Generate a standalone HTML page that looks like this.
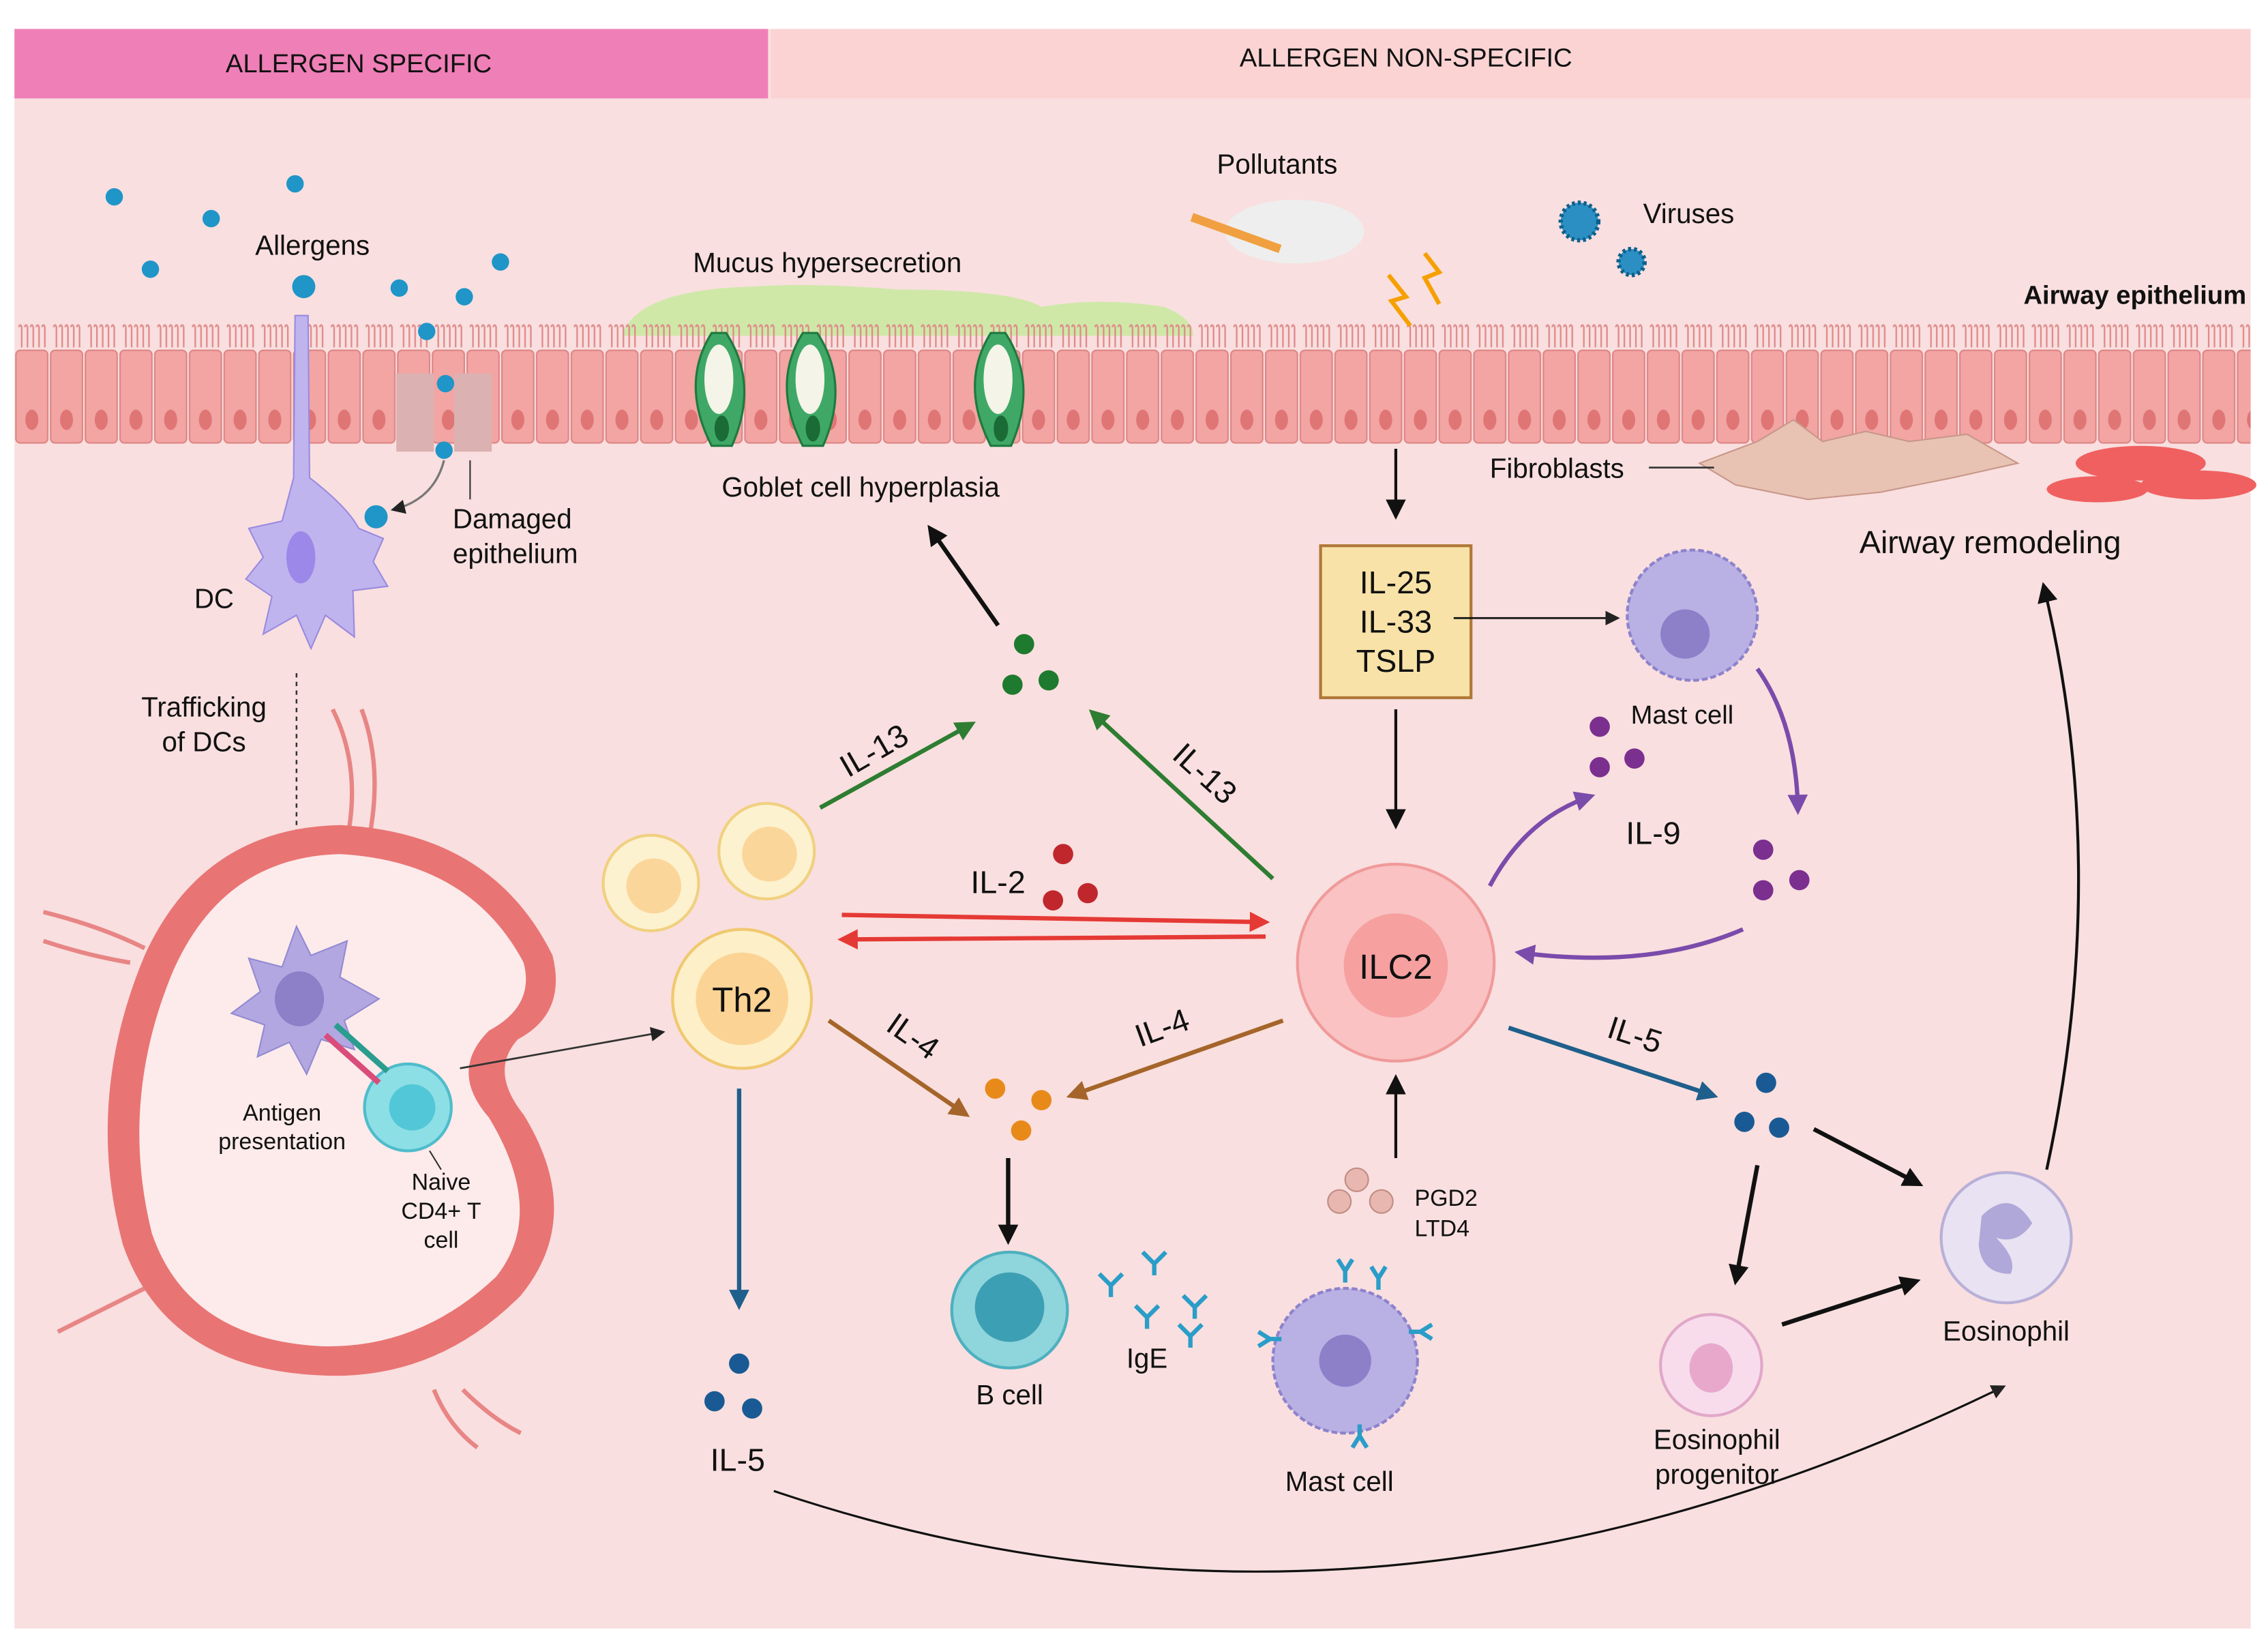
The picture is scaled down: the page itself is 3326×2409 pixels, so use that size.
<!DOCTYPE html>
<html><head><meta charset="utf-8"><style>
html,body{margin:0;padding:0;background:#fff}
svg{display:block}
text{font-family:"Liberation Sans",sans-serif;fill:#111}
</style></head><body>
<svg width="3326" height="2409" viewBox="0 0 1568 1135" preserveAspectRatio="none" xmlns="http://www.w3.org/2000/svg">
<defs>
<pattern id="epi" x="10" y="222" width="24" height="90" patternUnits="userSpaceOnUse">
<path d="M3 4 q1 -3 2 0 v14 M7 4 q1 -3 2 0 v14 M11 4 q1 -3 2 0 v14 M15 4 q1 -3 2 0 v14 M19 4 q1 -3 2 0 v14" fill="none" stroke="#e08a8a" stroke-width="1.1"/>
<rect x="1" y="20" width="22" height="64" rx="3" fill="#f2a5a2" stroke="#dd8584" stroke-width="1"/>
<ellipse cx="12" cy="68" rx="4.5" ry="7" fill="#e07575"/>
</pattern>
<marker id="ak" markerWidth="10" markerHeight="10" refX="8" refY="5" orient="auto" markerUnits="userSpaceOnUse"><path d="M0,0 L10,5 L0,10 z" fill="#222"/></marker>
<marker id="ag" markerWidth="14" markerHeight="14" refX="11" refY="7" orient="auto" markerUnits="userSpaceOnUse"><path d="M0,0 L14,7 L0,14 z" fill="#2e7d32"/></marker>
<marker id="ar" markerWidth="14" markerHeight="14" refX="11" refY="7" orient="auto" markerUnits="userSpaceOnUse"><path d="M0,0 L14,7 L0,14 z" fill="#e53935"/></marker>
<marker id="ao" markerWidth="14" markerHeight="14" refX="11" refY="7" orient="auto" markerUnits="userSpaceOnUse"><path d="M0,0 L14,7 L0,14 z" fill="#a5652a"/></marker>
<marker id="ab" markerWidth="14" markerHeight="14" refX="11" refY="7" orient="auto" markerUnits="userSpaceOnUse"><path d="M0,0 L14,7 L0,14 z" fill="#1f5f8b"/></marker>
<marker id="ap" markerWidth="14" markerHeight="14" refX="11" refY="7" orient="auto" markerUnits="userSpaceOnUse"><path d="M0,0 L14,7 L0,14 z" fill="#7b4bab"/></marker>
<marker id="aK" markerWidth="14" markerHeight="14" refX="11" refY="7" orient="auto" markerUnits="userSpaceOnUse"><path d="M0,0 L14,7 L0,14 z" fill="#111"/></marker>
</defs>
<rect x="0" y="0" width="1568" height="1135" fill="#fff"/>
<rect x="10" y="20" width="1546" height="1105" fill="#f9dfdf"/>
<rect x="10" y="20" width="521" height="48" fill="#ef7fb7"/>
<rect x="533" y="20" width="1023" height="48" fill="#fbd3d3"/>
<text x="248" y="50" font-size="18" text-anchor="middle">ALLERGEN SPECIFIC</text>
<text x="972" y="46" font-size="18" text-anchor="middle">ALLERGEN NON-SPECIFIC</text>

<path d="M430 232 Q440 200 520 198 Q560 195 620 200 Q700 200 720 212 Q760 205 805 212 Q825 220 825 232 Z" fill="#cfe8a8"/>
<rect x="10" y="222" width="1546" height="90" fill="url(#epi)"/>
<rect x="274" y="258" width="26" height="54" fill="#dcb1b1"/>
<rect x="314" y="258" width="26" height="54" fill="#dcb1b1"/>
<g fill="#3fa866" stroke="#1f7a40" stroke-width="1.5">
<path d="M492 230 Q470 265 492 308 h14 Q525 265 502 230 Z"/>
<path d="M555 230 Q533 265 555 308 h14 Q588 265 565 230 Z"/>
<path d="M685 230 Q663 265 685 308 h14 Q718 265 695 230 Z"/>
</g>
<g fill="#f4f4e8"><ellipse cx="497" cy="262" rx="10" ry="24"/><ellipse cx="560" cy="262" rx="10" ry="24"/><ellipse cx="690" cy="262" rx="10" ry="24"/></g>
<g fill="#1a6b36"><ellipse cx="499" cy="296" rx="5" ry="9"/><ellipse cx="562" cy="296" rx="5" ry="9"/><ellipse cx="692" cy="296" rx="5" ry="9"/></g>
<g fill="#e8c3b4" stroke="#c8978a"><path d="M1175 320 L1215 305 L1240 290 L1260 305 L1290 298 L1320 305 L1360 300 L1395 320 L1350 330 L1300 340 L1250 345 L1200 335 Z"/></g>
<g fill="#f06060"><ellipse cx="1480" cy="320" rx="45" ry="12"/><ellipse cx="1520" cy="335" rx="40" ry="10"/><ellipse cx="1450" cy="338" rx="35" ry="9"/></g>
<line x1="1140" y1="323" x2="1185" y2="323" stroke="#333" stroke-width="1.2"/>
<text x="1030" y="330" font-size="19">Fibroblasts</text>
<text x="1553" y="210" font-size="18" font-weight="bold" text-anchor="end">Airway epithelium</text>
<text x="1376" y="382" font-size="22" text-anchor="middle">Airway remodeling</text>
<text x="572" y="188" font-size="19" text-anchor="middle">Mucus hypersecretion</text>
<text x="595" y="343" font-size="19" text-anchor="middle">Goblet cell hyperplasia</text>

<g fill="#1f95c8"><circle cx="79" cy="136" r="6"/><circle cx="146" cy="151" r="6"/><circle cx="204" cy="127" r="6"/><circle cx="104" cy="186" r="6"/><circle cx="276" cy="199" r="6"/><circle cx="321" cy="205" r="6"/><circle cx="346" cy="181" r="6"/><circle cx="295" cy="229" r="6"/><circle cx="308" cy="265" r="6"/><circle cx="307" cy="311" r="6"/><circle cx="210" cy="198" r="8"/><circle cx="260" cy="357" r="8"/></g>
<text x="216" y="176" font-size="19" text-anchor="middle">Allergens</text>
<path d="M204 218 L213 218 L214 330 Q240 350 248 365 L265 372 L258 388 L268 405 L244 408 L245 440 L225 425 L215 448 L205 425 L182 438 L188 412 L170 400 L182 385 L172 365 L195 360 L203 330 Z" fill="#c0b4ee" stroke="#9a8ae0"/>
<ellipse cx="208" cy="385" rx="10" ry="18" fill="#9c88e8"/>
<path d="M307 318 Q300 345 272 352" fill="none" stroke="#777" stroke-width="1.5" marker-end="url(#ak)"/>
<line x1="325" y1="318" x2="325" y2="345" stroke="#333"/>
<text x="313" y="365" font-size="19">Damaged</text>
<text x="313" y="389" font-size="19">epithelium</text>
<text x="148" y="420" font-size="19" text-anchor="middle">DC</text>
<text x="141" y="495" font-size="19" text-anchor="middle">Trafficking</text>
<text x="141" y="519" font-size="19" text-anchor="middle">of DCs</text>
<line x1="205" y1="465" x2="205" y2="630" stroke="#333" stroke-width="1.2" stroke-dasharray="3,3" marker-end="url(#ak)"/>

<g fill="none" stroke="#e88585" stroke-width="3">
<path d="M30 630 Q70 640 100 655"/><path d="M30 650 Q60 660 90 665"/><path d="M40 920 Q80 900 110 885"/><path d="M230 490 Q250 530 240 580"/><path d="M250 490 Q265 530 255 580"/><path d="M320 960 Q340 980 360 990"/><path d="M300 960 Q310 985 330 1000"/>
</g>
<path d="M235 570 Q340 575 382 660 Q392 700 358 718 Q338 740 362 770 Q405 840 360 895 Q300 955 220 950 Q115 945 85 860 Q58 760 100 660 Q140 572 235 570 Z" fill="#e97474"/>
<path d="M235 590 Q325 595 362 665 Q370 695 338 712 Q310 740 338 772 Q378 838 343 882 Q290 932 222 930 Q130 925 105 852 Q82 760 120 670 Q155 592 235 590 Z" fill="#fcebea"/>
<path d="M205 640 L215 660 L240 650 L235 675 L262 690 L238 705 L245 725 L222 718 L212 742 L200 720 L178 730 L183 708 L160 700 L180 685 L172 662 L195 668 Z" fill="#b2a7e0" stroke="#938ad2"/>
<ellipse cx="207" cy="690" rx="17" ry="19" fill="#8d7fc8"/>
<circle cx="282" cy="765" r="30" fill="#8ddfe6" stroke="#4fbccb" stroke-width="2"/>
<circle cx="285" cy="765" r="16" fill="#52c7d7"/>
<line x1="225" y1="715" x2="262" y2="748" stroke="#d94d7b" stroke-width="4"/><line x1="232" y1="708" x2="268" y2="740" stroke="#2a9d8f" stroke-width="4"/>
<text x="195" y="774" font-size="16" text-anchor="middle">Antigen</text>
<text x="195" y="794" font-size="16" text-anchor="middle">presentation</text>
<line x1="297" y1="795" x2="305" y2="808" stroke="#333"/>
<text x="305" y="822" font-size="16" text-anchor="middle">Naive</text>
<text x="305" y="842" font-size="16" text-anchor="middle">CD4+ T</text>
<text x="305" y="862" font-size="16" text-anchor="middle">cell</text>
<line x1="318" y1="738" x2="458" y2="713" stroke="#333" stroke-width="1.3" marker-end="url(#ak)"/>

<circle cx="450" cy="610" r="33" fill="#fdf2cf" stroke="#f0d080" stroke-width="2"/><circle cx="452" cy="612" r="19" fill="#fbd69a"/>
<circle cx="530" cy="588" r="33" fill="#fdf2cf" stroke="#f0d080" stroke-width="2"/><circle cx="532" cy="590" r="19" fill="#fbd69a"/>
<circle cx="513" cy="690" r="48" fill="#fdf0c8" stroke="#f0c870" stroke-width="2"/><circle cx="513" cy="690" r="32" fill="#fbd495"/>
<text x="513" y="699" font-size="24" text-anchor="middle">Th2</text>

<circle cx="965" cy="665" r="68" fill="#fac2c2" stroke="#f09a9a" stroke-width="2"/><circle cx="965" cy="667" r="36" fill="#f6a0a0"/>
<text x="965" y="676" font-size="24" text-anchor="middle">ILC2</text>

<rect x="913" y="377" width="104" height="105" fill="#f8e2a8" stroke="#b07838" stroke-width="2"/>
<text x="965" y="410" font-size="22" text-anchor="middle">IL-25</text>
<text x="965" y="437" font-size="22" text-anchor="middle">IL-33</text>
<text x="965" y="464" font-size="22" text-anchor="middle">TSLP</text>

<text x="883" y="120" font-size="19" text-anchor="middle">Pollutants</text>
<ellipse cx="895" cy="160" rx="48" ry="22" fill="#eeeeee"/>
<line x1="824" y1="150" x2="885" y2="172" stroke="#f0a040" stroke-width="6"/>
<path d="M960 190 L972 205 L962 208 L975 225 M985 175 L995 188 L985 192 L995 210" fill="none" stroke="#f5a000" stroke-width="3"/>
<circle cx="1092" cy="153" r="13" fill="#2b8fc4" stroke="#0e5f8a" stroke-width="3" stroke-dasharray="2,2"/>
<circle cx="1128" cy="181" r="9" fill="#2b8fc4" stroke="#0e5f8a" stroke-width="3" stroke-dasharray="2,2"/>
<text x="1136" y="154" font-size="19">Viruses</text>

<circle cx="1170" cy="425" r="45" fill="#b9b0e4" stroke="#8d82cc" stroke-width="2" stroke-dasharray="4,2"/><circle cx="1165" cy="438" r="17" fill="#8d7fc8"/>
<text x="1163" y="500" font-size="18" text-anchor="middle">Mast cell</text>
<circle cx="930" cy="940" r="50" fill="#b9b0e4" stroke="#8d82cc" stroke-width="2" stroke-dasharray="4,2"/><circle cx="930" cy="940" r="18" fill="#8d7fc8"/>
<g stroke="#2a9dc8" stroke-width="3" fill="none"><path d="M925 870 l5 8 l5 -8 M930 878 v8"/><path d="M948 875 l5 8 l5 -8 M953 883 v8"/><path d="M870 920 l8 5 l-8 5 M878 925 h8"/><path d="M935 1000 l5 -8 l5 8 M940 992 v-8"/><path d="M990 915 l-8 5 l8 5 M982 920 h-8"/></g>
<text x="926" y="1030" font-size="19" text-anchor="middle">Mast cell</text>
<g fill="#e8b8b0" stroke="#c08c84"><circle cx="938" cy="815" r="8"/><circle cx="926" cy="830" r="8"/><circle cx="955" cy="830" r="8"/></g>
<text x="978" y="833" font-size="16">PGD2</text><text x="978" y="854" font-size="16">LTD4</text>

<circle cx="698" cy="905" r="40" fill="#8fd5dc" stroke="#4eb0bf" stroke-width="2"/><circle cx="698" cy="903" r="24" fill="#3d9fb3"/>
<text x="698" y="970" font-size="19" text-anchor="middle">B cell</text>
<g stroke="#2a9dc8" stroke-width="3" fill="none"><path d="M760 880 l8 8 l8 -8 M768 888 v8"/><path d="M790 865 l8 8 l8 -8 M798 873 v8"/><path d="M785 902 l8 8 l8 -8 M793 910 v8"/><path d="M818 895 l8 8 l8 -8 M826 903 v8"/><path d="M815 915 l8 8 l8 -8 M823 923 v8"/></g>
<text x="793" y="945" font-size="19" text-anchor="middle">IgE</text>

<circle cx="1387" cy="855" r="45" fill="#e8e2f2" stroke="#b9b0d8" stroke-width="2"/><path d="M1370 840 Q1390 820 1405 845 Q1395 860 1380 855 Q1395 870 1390 880 Q1370 880 1368 860 Z" fill="#b0a8d8"/>
<text x="1387" y="926" font-size="19" text-anchor="middle">Eosinophil</text>
<circle cx="1183" cy="943" r="35" fill="#f8dcec" stroke="#e0a8c8" stroke-width="2"/><ellipse cx="1183" cy="945" rx="15" ry="17" fill="#e8a8cc"/>
<text x="1187" y="1001" font-size="19" text-anchor="middle">Eosinophil</text>
<text x="1187" y="1025" font-size="19" text-anchor="middle">progenitor</text>

<g fill="#1e7a2e"><circle cx="708" cy="445" r="7"/><circle cx="700" cy="473" r="7"/><circle cx="725" cy="470" r="7"/></g>
<g fill="#c0272d"><circle cx="735" cy="590" r="7"/><circle cx="728" cy="622" r="7"/><circle cx="752" cy="617" r="7"/></g>
<g fill="#e88a1a"><circle cx="688" cy="752" r="7"/><circle cx="720" cy="760" r="7"/><circle cx="706" cy="781" r="7"/></g>
<g fill="#7b2f8f"><circle cx="1106" cy="502" r="7"/><circle cx="1106" cy="530" r="7"/><circle cx="1130" cy="524" r="7"/><circle cx="1219" cy="587" r="7"/><circle cx="1219" cy="615" r="7"/><circle cx="1244" cy="608" r="7"/></g>
<g fill="#1a5a94"><circle cx="1221" cy="748" r="7"/><circle cx="1206" cy="775" r="7"/><circle cx="1230" cy="779" r="7"/><circle cx="511" cy="942" r="7"/><circle cx="494" cy="968" r="7"/><circle cx="520" cy="973" r="7"/></g>

<line x1="567" y1="558" x2="672" y2="500" stroke="#2e7d32" stroke-width="3" marker-end="url(#ag)"/>
<line x1="880" y1="607" x2="755" y2="492" stroke="#2e7d32" stroke-width="3" marker-end="url(#ag)"/>
<line x1="690" y1="432" x2="643" y2="365" stroke="#111" stroke-width="3" marker-end="url(#aK)"/>
<line x1="582" y1="632" x2="875" y2="637" stroke="#e53935" stroke-width="3" marker-end="url(#ar)"/>
<line x1="875" y1="647" x2="582" y2="649" stroke="#e53935" stroke-width="3" marker-end="url(#ar)"/>
<line x1="573" y1="705" x2="668" y2="770" stroke="#a5652a" stroke-width="3" marker-end="url(#ao)"/>
<line x1="887" y1="705" x2="740" y2="757" stroke="#a5652a" stroke-width="3" marker-end="url(#ao)"/>
<line x1="697" y1="800" x2="697" y2="857" stroke="#111" stroke-width="3" marker-end="url(#aK)"/>
<line x1="511" y1="752" x2="511" y2="902" stroke="#1f5f8b" stroke-width="3" marker-end="url(#ab)"/>
<line x1="1043" y1="710" x2="1185" y2="757" stroke="#1f5f8b" stroke-width="3" marker-end="url(#ab)"/>
<line x1="1254" y1="780" x2="1327" y2="818" stroke="#111" stroke-width="3" marker-end="url(#aK)"/>
<line x1="1215" y1="805" x2="1200" y2="885" stroke="#111" stroke-width="3" marker-end="url(#aK)"/>
<line x1="1232" y1="915" x2="1325" y2="885" stroke="#111" stroke-width="3" marker-end="url(#aK)"/>
<path d="M1415 808 Q1460 600 1413 405" fill="none" stroke="#111" stroke-width="2" marker-end="url(#aK)"/>
<path d="M535 1030 Q950 1170 1385 958" fill="none" stroke="#111" stroke-width="1.5" marker-end="url(#ak)"/>
<line x1="965" y1="310" x2="965" y2="356" stroke="#111" stroke-width="2" marker-end="url(#aK)"/>
<line x1="1005" y1="427" x2="1118" y2="427" stroke="#111" stroke-width="1.3" marker-end="url(#ak)"/>
<line x1="965" y1="490" x2="965" y2="570" stroke="#111" stroke-width="2" marker-end="url(#aK)"/>
<line x1="965" y1="800" x2="965" y2="745" stroke="#111" stroke-width="2" marker-end="url(#aK)"/>
<path d="M1215 462 Q1242 500 1243 560" fill="none" stroke="#7b4bab" stroke-width="3" marker-end="url(#ap)"/>
<path d="M1030 612 Q1055 565 1100 550" fill="none" stroke="#7b4bab" stroke-width="3" marker-end="url(#ap)"/>
<path d="M1205 642 Q1140 670 1050 658" fill="none" stroke="#7b4bab" stroke-width="3" marker-end="url(#ap)"/>

<text x="608" y="525" font-size="22" transform="rotate(-30 608 525)" text-anchor="middle">IL-13</text>
<text x="828" y="540" font-size="22" transform="rotate(42 828 540)" text-anchor="middle">IL-13</text>
<text x="690" y="617" font-size="22" text-anchor="middle">IL-2</text>
<text x="627" y="722" font-size="22" transform="rotate(35 627 722)" text-anchor="middle">IL-4</text>
<text x="806" y="717" font-size="22" transform="rotate(-20 806 717)" text-anchor="middle">IL-4</text>
<text x="1128" y="722" font-size="22" transform="rotate(18 1128 722)" text-anchor="middle">IL-5</text>
<text x="1143" y="583" font-size="22" text-anchor="middle">IL-9</text>
<text x="510" y="1016" font-size="22" text-anchor="middle">IL-5</text>
</svg>
</body></html>
